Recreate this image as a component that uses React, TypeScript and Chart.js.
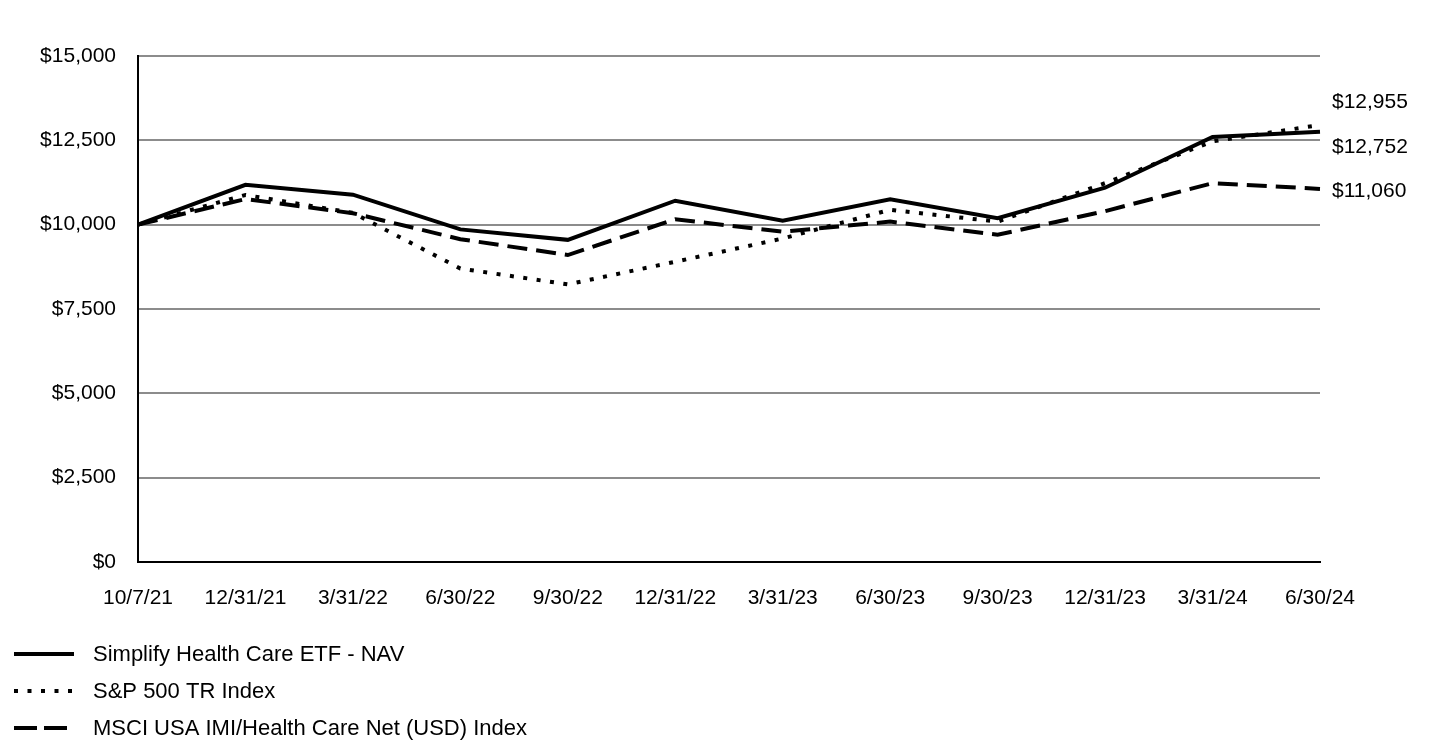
import React, { useEffect, useRef } from "react";
import { Chart, registerables } from "chart.js";

Chart.register(...registerables);

const categories = ["10/7/21", "12/31/21", "3/31/22", "6/30/22", "9/30/22", "12/31/22", "3/31/23", "6/30/23", "9/30/23", "12/31/23", "3/31/24", "6/30/24"];
const navValues = [10000, 11180, 10890, 9860, 9550, 10710, 10115, 10750, 10190, 11095, 12600, 12752];
const sp500Values = [10000, 10880, 10350, 8700, 8230, 8900, 9590, 10440, 10090, 11230, 12470, 12955];
const msciValues = [10000, 10760, 10340, 9570, 9100, 10160, 9790, 10090, 9700, 10400, 11230, 11060];
const seriesNames = ["Simplify Health Care ETF - NAV", "S&P 500 TR Index", "MSCI USA IMI/Health Care Net (USD) Index"];
const yTickValues = [0, 2500, 5000, 7500, 10000, 12500, 15000];

const FONT = "'Liberation Sans', Arial, sans-serif";
const dashes: number[][] = [[], [4, 9.5], [20, 9]];
const legendDashes: number[][] = [[], [4, 9.5], [23, 7]];
const legendEnds = [74, 72, 67];
const endLabelOffsets = [15, -23, 2];

const fmt = (v: number) => "$" + v.toLocaleString("en-US");

export default function App() {
  const ref = useRef<HTMLCanvasElement | null>(null);
  useEffect(() => {
    document.body.style.margin = "0";
    const canvas = ref.current!;
    const overlay = {
      id: "overlay",
      afterDatasetsDraw(chart: any) {
        const ctx = chart.ctx;
        const y = chart.scales.y;
        const area = chart.chartArea;
        ctx.save();
        ctx.font = `21px ${FONT}`;
        ctx.fillStyle = "#000";
        ctx.textBaseline = "middle";
        ctx.textAlign = "left";
        chart.data.datasets.forEach((ds: any, i: number) => {
          const last = ds.data[ds.data.length - 1];
          ctx.fillText(fmt(last), area.right + 12, y.getPixelForValue(last) + endLabelOffsets[i]);
        });
        // legend
        ctx.font = `22px ${FONT}`;
        chart.data.datasets.forEach((ds: any, i: number) => {
          const cy = 654 + i * 37;
          ctx.beginPath();
          ctx.setLineDash(legendDashes[i]);
          ctx.lineWidth = 4;
          ctx.strokeStyle = "#000";
          ctx.moveTo(14, cy);
          ctx.lineTo(legendEnds[i], cy);
          ctx.stroke();
          ctx.setLineDash([]);
          ctx.fillText(ds.label, 93, cy + 1);
        });
        ctx.restore();
      },
    };
    const chart = new Chart(canvas, {
      type: "line",
      data: {
        labels: categories,
        datasets: [navValues, sp500Values, msciValues].map((d, i) => ({
          label: seriesNames[i],
          data: d,
          borderColor: "#000",
          backgroundColor: "#000",
          borderWidth: 4,
          borderDash: dashes[i],
          borderCapStyle: "butt",
          pointRadius: 0,
          tension: 0,
          fill: false,
        })),
      },
      options: {
        animation: false,
        responsive: true,
        maintainAspectRatio: false,
        layout: { padding: { left: 0, right: 120, top: 56, bottom: 132 } },
        plugins: { legend: { display: false }, tooltip: { enabled: false } },
        scales: {
          x: {
            grid: { display: false, drawTicks: false, tickLength: 0 },
            border: { display: true, color: "#000", width: 2 },
            ticks: { color: "#000", font: { family: FONT, size: 21 }, padding: 24, maxRotation: 0, autoSkip: false },
            afterFit: (s: any) => { s.height = 50; },
          },
          y: {
            min: 0,
            max: 15000,
            afterBuildTicks: (s: any) => { s.ticks = yTickValues.map((v) => ({ value: v })); },
            grid: { color: "#8c8c8c", lineWidth: 2, drawTicks: false, tickLength: 0 },
            border: { display: true, color: "#000", width: 2 },
            ticks: { color: "#000", font: { family: FONT, size: 21 }, padding: 22, callback: (v: any) => fmt(Number(v)) },
            afterFit: (s: any) => { s.width = 138; },
          },
        },
      },
      plugins: [overlay],
    } as any);
    return () => chart.destroy();
  }, []);
  return (
    <div style={{ position: "relative", width: 1440, height: 744 }}>
      <canvas ref={ref} />
    </div>
  );
}
